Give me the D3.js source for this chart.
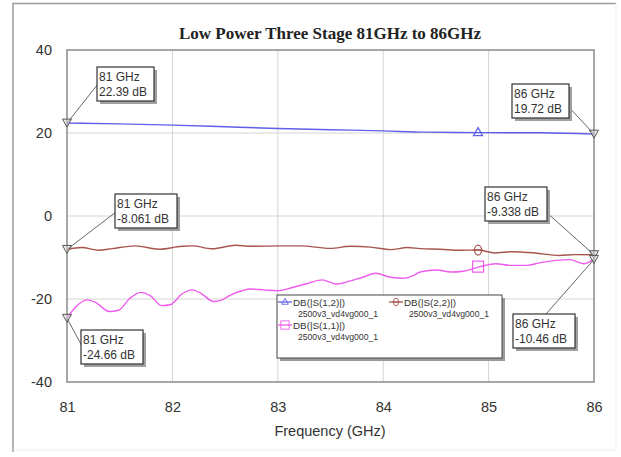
<!DOCTYPE html>
<html>
<head>
<meta charset="utf-8">
<script src="https://cdn.jsdelivr.net/npm/d3@7"></script>
<style>
  body { margin: 0; background: #fff; }
  svg { display: block; font-family: "Liberation Sans", Arial, sans-serif; }
</style>
</head>
<body>
<svg width="621" height="457"></svg>
<script>
// ---- data ----
const xTicks = [81, 82, 83, 84, 85, 86];
const yTicks = [-40, -20, 0, 20, 40];

const s12Freq = [81.0, 81.5, 82.0, 82.5, 83.0, 83.5, 84.0, 84.4, 84.9, 85.5, 86.0];
const s12dB   = [22.39, 22.2, 21.9, 21.5, 21.1, 20.8, 20.5, 20.2, 20.1, 20.05, 19.72];

const s22Freq = [81.0, 81.14, 81.3, 81.43, 81.65, 81.87, 82.09, 82.19, 82.38, 82.6, 82.74, 83.03,
                 83.22, 83.5, 83.69, 83.88, 84.07, 84.23, 84.35, 84.54, 84.73, 84.9, 85.06, 85.22,
                 85.44, 85.67, 85.82, 86.0];
const s22dB   = [-8.061, -7.6, -8.26, -7.85, -7.2, -8.0, -7.3, -7.2, -7.9, -7.05, -7.3, -7.2,
                 -7.2, -7.8, -7.3, -7.5, -8.1, -7.6, -7.85, -8.0, -8.26, -8.2, -8.9, -8.6,
                 -8.9, -9.5, -9.3, -9.338];

const s11Freq = [81.0, 81.08, 81.19, 81.27, 81.4, 81.49, 81.59, 81.7, 81.79, 81.9, 81.98, 82.09,
                 82.19, 82.28, 82.39, 82.47, 82.57, 82.66, 82.74, 82.87, 83.0, 83.13, 83.29, 83.42,
                 83.55, 83.68, 83.81, 83.93, 84.06, 84.19, 84.29, 84.35, 84.51, 84.64, 84.76, 84.92,
                 85.07, 85.2, 85.36, 85.48, 85.64, 85.77, 85.9, 86.0];
const s11dB   = [-24.66, -22.0, -20.2, -20.8, -23.0, -22.7, -20.0, -18.4, -19.2, -21.6, -21.4, -18.8,
                 -17.8, -18.8, -20.6, -20.2, -18.8, -18.0, -17.6, -17.8, -18.0, -17.3, -16.2, -15.4,
                 -16.4, -15.7, -14.7, -13.8, -14.7, -15.0, -14.3, -13.5, -13.0, -13.5, -13.3, -12.2,
                 -11.5, -11.9, -11.9, -11.3, -10.7, -10.5, -11.5, -10.46];

const seriesNames = ["DB(|S(1,2)|)", "DB(|S(2,2)|)", "DB(|S(1,1)|)"];
const seriesSub = "2500v3_vd4vg000_1";
const markerFreq = 84.9;

const markerLabels = [
  { f: 81, v: 22.39, t: ["81 GHz", "22.39 dB"] },
  { f: 81, v: -8.061, t: ["81 GHz", "-8.061 dB"] },
  { f: 81, v: -24.66, t: ["81 GHz", "-24.66 dB"] },
  { f: 86, v: 19.72, t: ["86 GHz", "19.72 dB"] },
  { f: 86, v: -9.338, t: ["86 GHz", "-9.338 dB"] },
  { f: 86, v: -10.46, t: ["86 GHz", "-10.46 dB"] }
];

// ---- layout ----
const svg = d3.select("svg");
const plot = { left: 67, right: 594, top: 50, bottom: 382 };

const x = d3.scaleLinear().domain([81, 86]).range([plot.left, plot.right]);
const y = d3.scaleLinear().domain([-40, 40]).range([plot.bottom, plot.top]);

// outer frame
svg.append("path")
  .attr("d", "M13,452 L13,3.5 L616,3.5")
  .attr("fill", "none").attr("stroke", "#9a9a9a").attr("stroke-width", 1.5);
svg.append("path")
  .attr("d", "M616,3.5 L616,450 L13,450")
  .attr("fill", "none").attr("stroke", "#ececec").attr("stroke-width", 1);

// title
svg.append("text")
  .attr("x", 330).attr("y", 39)
  .attr("text-anchor", "middle")
  .style("font-family", "'Liberation Serif', 'Times New Roman', serif")
  .style("font-weight", "bold")
  .style("font-size", "17px")
  .attr("fill", "#222")
  .text("Low Power Three Stage 81GHz to 86GHz");

// grid
svg.append("g").selectAll("line").data(xTicks.slice(1, -1)).enter().append("line")
  .attr("x1", d => x(d)).attr("x2", d => x(d))
  .attr("y1", plot.top).attr("y2", plot.bottom)
  .attr("stroke", "#d4d4d4").attr("stroke-width", 1);
svg.append("g").selectAll("line").data(yTicks.slice(1, -1)).enter().append("line")
  .attr("x1", plot.left).attr("x2", plot.right)
  .attr("y1", d => y(d)).attr("y2", d => y(d))
  .attr("stroke", "#d4d4d4").attr("stroke-width", 1);

// axes (labels only)
const gy = svg.append("g")
  .attr("transform", `translate(${plot.left},0)`)
  .call(d3.axisLeft(y).tickValues(yTicks).tickSize(0).tickPadding(15).tickFormat(d => String(d)));
const gx = svg.append("g")
  .attr("transform", `translate(0,${plot.bottom})`)
  .call(d3.axisBottom(x).tickValues(xTicks).tickSize(0).tickPadding(20).tickFormat(d => String(d)));
[gx, gy].forEach(g => {
  g.select(".domain").remove();
  g.selectAll("text")
    .style("font-family", "'Liberation Sans', Arial, sans-serif")
    .style("font-size", "14.5px")
    .attr("fill", "#333");
});

svg.append("text")
  .attr("x", 330).attr("y", 436)
  .attr("text-anchor", "middle")
  .style("font-size", "14.5px")
  .attr("fill", "#333")
  .text("Frequency (GHz)");

// plot border
svg.append("rect")
  .attr("x", plot.left).attr("y", plot.top)
  .attr("width", plot.right - plot.left).attr("height", plot.bottom - plot.top)
  .attr("fill", "none").attr("stroke", "#8a8a8a").attr("stroke-width", 1.5);

// curves
const series = [
  { f: s12Freq, v: s12dB, color: "#5f5fe8", sym: "tri" },
  { f: s22Freq, v: s22dB, color: "#a8554e", sym: "dia" },
  { f: s11Freq, v: s11dB, color: "#ee5cee", sym: "sq" }
];
const line = d3.line().x(d => x(d[0])).y(d => y(d[1])).curve(d3.curveMonotoneX);
series.forEach(s => {
  svg.append("path")
    .datum(d3.zip(s.f, s.v))
    .attr("d", line)
    .attr("fill", "none")
    .attr("stroke", s.color)
    .attr("stroke-width", 1.4);
});

function drawSymbol(g, sym, cx, cy, color) {
  if (sym === "tri") {
    g.append("path").attr("d", `M${cx},${cy - 5} L${cx + 4.5},${cy + 3} L${cx - 4.5},${cy + 3} Z`)
      .attr("fill", "none").attr("stroke", color).attr("stroke-width", 1.2);
  } else if (sym === "dia") {
    g.append("ellipse").attr("cx", cx).attr("cy", cy).attr("rx", 3.5).attr("ry", 5)
      .attr("fill", "none").attr("stroke", color).attr("stroke-width", 1.2);
    g.append("line").attr("x1", cx - 5).attr("x2", cx + 5).attr("y1", cy).attr("y2", cy)
      .attr("stroke", color).attr("stroke-width", 1.2);
  } else {
    g.append("rect").attr("x", cx - 5.5).attr("y", cy - 5.5).attr("width", 11).attr("height", 11)
      .attr("fill", "none").attr("stroke", color).attr("stroke-width", 1.2);
  }
}

// series markers near 84.9 GHz
series.forEach(s => {
  const i = d3.minIndex(s.f, f => Math.abs(f - markerFreq));
  drawSymbol(svg.append("g"), s.sym, x(markerFreq), y(s.v[i]), s.color);
});

// legend
const lg = svg.append("g");
const lgBox = { x: 277, y: 295, w: 225, h: 63 };
lg.append("rect").attr("x", lgBox.x + 3).attr("y", lgBox.y + 3).attr("width", lgBox.w).attr("height", lgBox.h)
  .attr("fill", "#9a9a9a");
lg.append("rect").attr("x", lgBox.x).attr("y", lgBox.y).attr("width", lgBox.w).attr("height", lgBox.h)
  .attr("fill", "#fff").attr("stroke", "#444").attr("stroke-width", 1);
const lgPos = [[285, 302], [396, 302], [285, 325]];
series.forEach((s, i) => {
  const [lx, ly] = lgPos[i];
  lg.append("line").attr("x1", lx - 7).attr("x2", lx + 7).attr("y1", ly).attr("y2", ly)
    .attr("stroke", s.color).attr("stroke-width", 1.3);
  const g = lg.append("g").attr("transform", `translate(${lx},${ly}) scale(0.75) translate(${-lx},${-ly})`);
  drawSymbol(g, s.sym, lx, ly, s.color);
  lg.append("text").attr("x", lx + 8).attr("y", ly + 3.5)
    .style("font-size", "9.5px").attr("fill", "#333")
    .attr("textLength", 52).attr("lengthAdjust", "spacingAndGlyphs")
    .text(seriesNames[i]);
  lg.append("text").attr("x", lx + 13).attr("y", ly + 15)
    .style("font-size", "9.5px").attr("fill", "#333")
    .attr("textLength", 80).attr("lengthAdjust", "spacingAndGlyphs")
    .text(seriesSub);
});

// marker annotation boxes with leader lines
const boxPos = [
  { x: 97, y: 67, ax: 98, ay: 84 },
  { x: 115, y: 194, ax: 116, ay: 212 },
  { x: 81, y: 330, ax: 82, ay: 346 },
  { x: 512, y: 84, ax: 566, ay: 104 },
  { x: 485, y: 187, ax: 546, ay: 212 },
  { x: 513, y: 314, ax: 546, ay: 314 }
];
const ann = svg.append("g");
markerLabels.forEach((m, i) => {
  const b = boxPos[i];
  const px = x(m.f), py = y(m.v);
  ann.append("line").attr("x1", b.ax).attr("y1", b.ay).attr("x2", px).attr("y2", py)
    .attr("stroke", "#666").attr("stroke-width", 1);
  // down triangle marker
  ann.append("path").attr("d", `M${px - 4.5},${py - 4} L${px + 4.5},${py - 4} L${px},${py + 4} Z`)
    .attr("fill", "#ddd").attr("fill-opacity", 0.5).attr("stroke", "#555").attr("stroke-width", 1);
});
markerLabels.forEach((m, i) => {
  const b = boxPos[i];
  const w = m.t[1].length > 8 ? 62 : 57;
  ann.append("rect").attr("x", b.x + 3).attr("y", b.y + 3).attr("width", w).attr("height", 34)
    .attr("fill", "#a0a0a0");
  ann.append("rect").attr("x", b.x).attr("y", b.y).attr("width", w).attr("height", 34)
    .attr("fill", "#fff").attr("stroke", "#333").attr("stroke-width", 1.2);
  ann.append("text").attr("x", b.x + 2).attr("y", b.y + 14)
    .style("font-size", "12px").attr("fill", "#333").text(m.t[0]);
  ann.append("text").attr("x", b.x + 2).attr("y", b.y + 29)
    .style("font-size", "12px").attr("fill", "#333").text(m.t[1]);
});
</script>
</body>
</html>
